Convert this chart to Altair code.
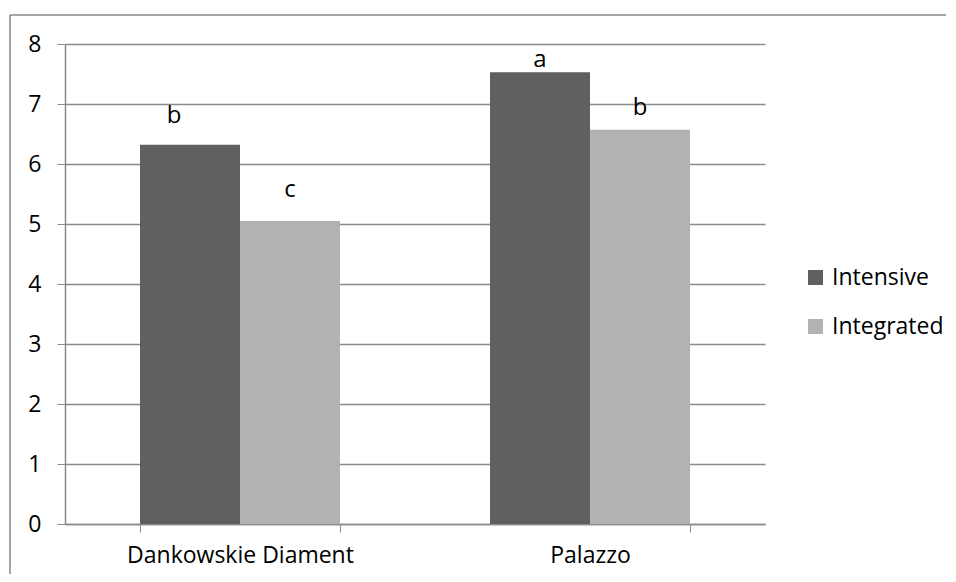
import altair as alt
import pandas as pd

categories = ["Dankowskie Diament", "Dankowskie Diament", "Palazzo", "Palazzo"]
systems = ["Intensive", "Integrated", "Intensive", "Integrated"]
values = [6.32, 5.05, 7.53, 6.57]
letters = ["b", "c", "a", "b"]
letter_heights = [6.68, 5.45, 7.62, 6.82]

df = pd.DataFrame({
    "cat": categories,
    "sys": systems,
    "val": values,
    "letter": letters,
    "ly": letter_heights,
    "idx": list(range(len(values))),
})

FONT = "Open Sans"
FS = 23
GRID = "#8a8a8a"
CAT_ORDER = ["Dankowskie Diament", "Palazzo"]
SYS_ORDER = ["Intensive", "Integrated"]

x = alt.X("cat:N", title=None, sort=CAT_ORDER,
          scale=alt.Scale(paddingInner=0.4286, paddingOuter=0.2143),
          axis=alt.Axis(labelAngle=0, labelFont=FONT, labelFontSize=FS, labelColor="#000000",
                        labelLimit=0, labelPadding=12, tickBand="extent", tickSize=8, tickColor=GRID,
                        domainColor=GRID, domainWidth=1.5, grid=False))
xo = alt.XOffset("sys:N", sort=SYS_ORDER, scale=alt.Scale(paddingInner=0, paddingOuter=0))
y = alt.Y("val:Q", title=None,
          scale=alt.Scale(domain=[0, 8], nice=False),
          axis=alt.Axis(values=[0, 1, 2, 3, 4, 5, 6, 7, 8], format="d", labelFont=FONT, labelFontSize=FS,
                        labelColor="#000000", labelPadding=16, tickSize=8, tickColor=GRID,
                        domainColor=GRID, domainWidth=1.5, gridColor=GRID, gridWidth=1.5))

bars = alt.Chart(df).mark_bar(stroke=None).encode(
    x=x, xOffset=xo, y=y,
    color=alt.Color("sys:N", sort=SYS_ORDER,
                    scale=alt.Scale(domain=SYS_ORDER, range=["#606060", "#b2b2b2"]),
                    legend=alt.Legend(title=None, orient="none", legendX=739, legendY=222,
                                      symbolType="square", symbolSize=225, symbolStrokeWidth=0,
                                      labelFont=FONT, labelFontSize=FS, labelColor="#000000",
                                      labelOffset=5, rowPadding=25)),
)

text_main = alt.Chart(df).transform_filter("datum.idx > 0").mark_text(
    font=FONT, fontSize=24, baseline="alphabetic", align="center", color="#000000"
).encode(x=alt.X("cat:N", sort=CAT_ORDER), xOffset=alt.XOffset("sys:N", sort=SYS_ORDER),
         y=alt.Y("ly:Q"), text="letter:N")

text_first = alt.Chart(df).transform_filter("datum.idx == 0").mark_text(
    font=FONT, fontSize=24, baseline="alphabetic", align="center", color="#000000", dx=-16
).encode(x=alt.X("cat:N", sort=CAT_ORDER), xOffset=alt.XOffset("sys:N", sort=SYS_ORDER),
         y=alt.Y("ly:Q"), text="letter:N")

frame = pd.DataFrame({"a": [0]})
border_top = alt.Chart(frame).mark_rule(stroke="#888888", strokeWidth=1.5).encode(
    x=alt.value(-55), x2=alt.value(881), y=alt.value(-29))
border_left = alt.Chart(frame).mark_rule(stroke="#888888", strokeWidth=1.5).encode(
    x=alt.value(-55), y=alt.value(-29), y2=alt.value(540))

chart = alt.layer(border_top, border_left, bars, text_main, text_first).properties(
    width=700, height=480,
    padding={"left": 57, "top": 36, "right": 183, "bottom": 50},
    autosize=alt.AutoSizeParams(type="none"),
).configure_view(stroke=None).configure_axis(domainCap="butt")

chart.save("out.html", embed_options={"renderer": "svg", "actions": False})
